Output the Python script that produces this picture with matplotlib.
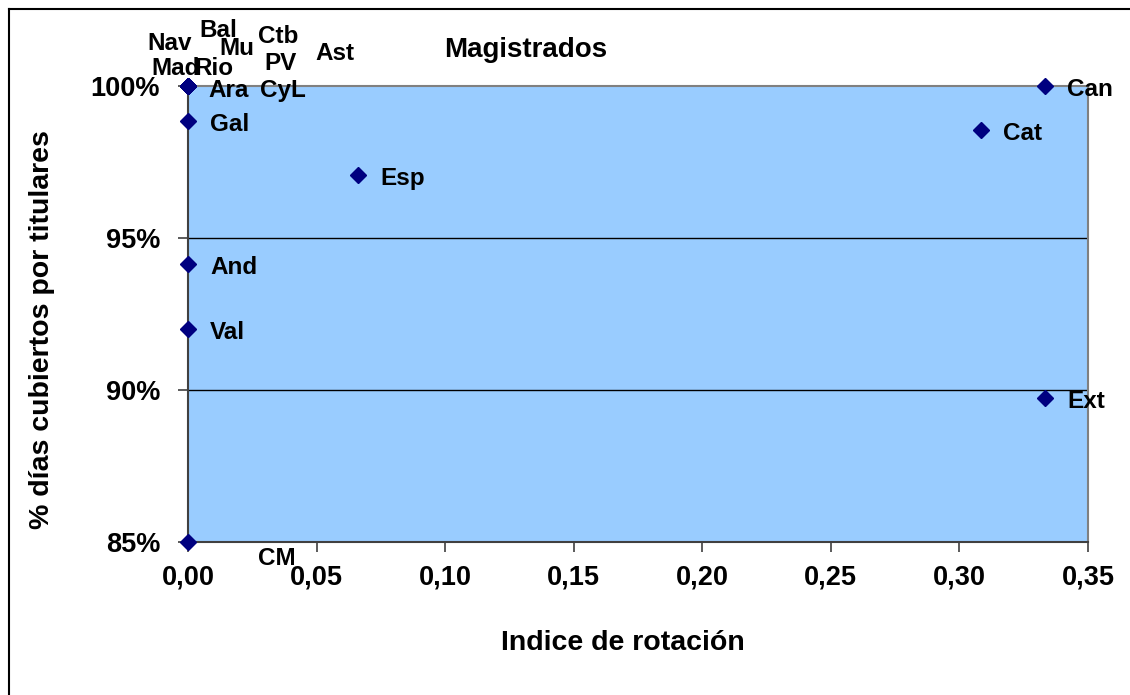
import matplotlib
matplotlib.use("Agg")
import matplotlib.pyplot as plt
from matplotlib.lines import Line2D
from matplotlib.ticker import FuncFormatter, FixedLocator

plt.rcParams['font.family'] = ['Liberation Sans', 'DejaVu Sans']

# ---- data ----
regions = ["Nav", "Mad", "Bal", "Rio", "Mu", "Ara", "Ctb", "PV", "CyL", "Ast",
           "Gal", "Esp", "And", "Val", "Cat", "Can", "Ext", "CM"]
rotation = [0.0, 0.0, 0.0, 0.0, 0.0, 0.0, 0.0, 0.0, 0.0, 0.0,
            0.0, 0.0661, 0.0, 0.0, 0.3084, 0.3333, 0.3333, 0.0]
covered = [1.0, 1.0, 1.0, 1.0, 1.0, 1.0, 1.0, 1.0, 1.0, 1.0,
           0.9885, 0.9707, 0.9414, 0.920, 0.9855, 1.0, 0.8974, 0.85]
x_ticks = [0.00, 0.05, 0.10, 0.15, 0.20, 0.25, 0.30, 0.35]
y_ticks = [0.85, 0.90, 0.95, 1.00]
title = "Magistrados"
x_label = "Indice de rotación"
y_label = "% días cubiertos por titulares"

# label placement (offset in pixels from the marker, horizontal alignment)
label_offsets = {
    "Nav": (-18, 36, "center"), "Mad": (-12, 11, "center"),
    "Bal": (30, 49, "center"), "Rio": (26, 11, "center"),
    "Mu": (49, 31, "center"), "Ara": (41, -11, "center"),
    "Ctb": (90, 43, "center"), "PV": (93, 16, "center"),
    "CyL": (95, -11, "center"), "Ast": (147, 26, "center"),
    "Gal": (22, -10, "left"), "Esp": (22, -10, "left"),
    "And": (22, -10, "left"), "Val": (22, -10, "left"),
    "Cat": (22, -10, "left"), "Can": (22, -10, "left"),
    "Ext": (22, -10, "left"), "CM": (89, -23, "center"),
}

W, H = 1130, 695
fig = plt.figure(figsize=(W / 100, H / 100), dpi=100)
fig.patch.set_facecolor("white")
ax = fig.add_axes([188 / W, 1 - 542 / H, 900 / W, 456 / H])
ax.set_facecolor("#99CCFF")

ax.set_xlim(0, 0.35)
ax.set_ylim(0.85, 1.0)
ax.xaxis.set_major_locator(FixedLocator(x_ticks))
ax.yaxis.set_major_locator(FixedLocator(y_ticks))
ax.xaxis.set_major_formatter(FuncFormatter(lambda v, p: f"{v:.2f}".replace(".", ",")))
ax.yaxis.set_major_formatter(FuncFormatter(lambda v, p: f"{round(v * 100):d}%"))

for y in y_ticks[1:3]:
    ax.axhline(y, color="black", lw=1.0, zorder=1)

ax.plot(rotation, covered, linestyle="none", marker="D", markersize=8,
        color="#000080", clip_on=False, zorder=5)

for name, xv, yv in zip(regions, rotation, covered):
    dx, dy, ha = label_offsets[name]
    ax.annotate(name, (xv, yv), xytext=(dx, dy), textcoords="offset pixels",
                ha=ha, va="baseline", fontsize=17.5, fontweight="bold",
                color="black", annotation_clip=False, zorder=6)

for side in ["left", "bottom"]:
    ax.spines[side].set_color("#404040")
    ax.spines[side].set_linewidth(1.5)
for side in ["right", "top"]:
    ax.spines[side].set_color("#808080")
    ax.spines[side].set_linewidth(1.5)

ax.tick_params(axis="both", direction="out", length=7, width=1.2, color="#404040",
               labelsize=19.5)
ax.tick_params(axis="y", pad=13)
ax.tick_params(axis="x", pad=9)
for lbl in ax.get_xticklabels() + ax.get_yticklabels():
    lbl.set_fontweight("bold")

fig.text(526 / W, 1 - 57 / H, title, ha="center", va="baseline",
         fontsize=20, fontweight="bold")
fig.text(623 / W, 1 - 643 / H, x_label, ha="center", va="center",
         fontsize=20.5, fontweight="bold")
fig.text(42 / W, 1 - 330 / H, y_label, ha="center", va="center",
         rotation=90, fontsize=20.5, fontweight="bold")

# outer chart border (visible at left and top)
fig.add_artist(Line2D([9 / W, 9 / W], [0, 1 - 9 / H], transform=fig.transFigure,
                      color="black", lw=1.5))
fig.add_artist(Line2D([9 / W, 1], [1 - 9 / H, 1 - 9 / H], transform=fig.transFigure,
                      color="black", lw=1.5))

fig.savefig("out.png", dpi=100)
